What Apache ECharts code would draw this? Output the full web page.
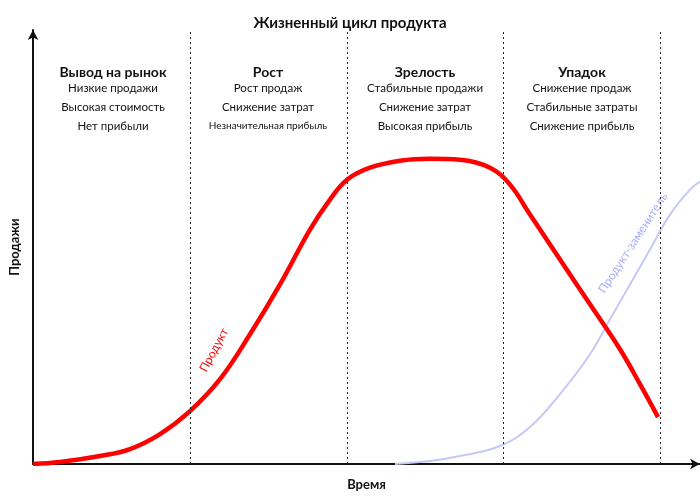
<!DOCTYPE html>
<html lang="ru">
<head>
<meta charset="utf-8">
<title>Жизненный цикл продукта</title>
<script src="https://cdn.jsdelivr.net/npm/echarts@6/dist/echarts.min.js"></script>
</head>
<body style="margin:0;background:#fff">
<div id="main" style="width:700px;height:496px"></div>
<script>
const productX = [0, 27, 67, 97, 127, 157, 187, 217, 247, 277, 297, 314, 337, 367, 397, 427, 457, 477, 497, 527, 557, 587, 607, 625];
const productY = [0, 2, 8, 15, 30, 53, 85, 130, 180, 235, 265, 285, 297, 304, 306, 305, 297, 280, 250, 205, 160, 115, 80, 47];
const substX = [362, 397, 427, 467, 497, 527, 557, 577, 597, 617, 637, 657, 667];
const substY = [0, 3, 8, 18, 37, 70, 110, 145, 180, 215, 250, 275, 283];
const phaseBounds = [157, 314, 470, 627];
const phaseNames = ['Вывод на рынок', 'Рост', 'Зрелость', 'Упадок'];
const phaseLines = [
  ['Низкие продажи', 'Высокая стоимость', 'Нет прибыли'],
  ['Рост продаж', 'Снижение затрат', 'Незначительная прибыль'],
  ['Стабильные продажи', 'Снижение затрат', 'Высокая прибыль'],
  ['Снижение продаж', 'Стабильные затраты', 'Снижение прибыль']
];
const phaseCenters = [113, 268, 425, 582];

const font = 'Lato, "Open Sans", sans-serif';
const chart = echarts.init(document.getElementById('main'));

const graphics = [];
phaseNames.forEach((n, i) => {
  graphics.push({ type: 'text', x: phaseCenters[i], y: 72, style: { text: n, align: 'center', verticalAlign: 'middle', font: 'bold 14px ' + font, fill: '#111' } });
  phaseLines[i].forEach((t, j) => {
    graphics.push({ type: 'text', x: phaseCenters[i], y: 88 + j * 19, style: { text: t, align: 'center', verticalAlign: 'middle', font: (i === 1 && j === 2 ? 10 : 11.5) + 'px ' + font, fill: '#111' } });
  });
});
graphics.push({ type: 'text', x: 214, y: 350, rotation: Math.PI * 62 / 180, style: { text: 'Продукт', font: '12px ' + font, fill: '#f00', align: 'center', verticalAlign: 'middle' } });
graphics.push({ type: 'text', x: 633, y: 243, rotation: Math.PI * 57 / 180, style: { text: 'Продукт-заменитель', font: '12px ' + font, fill: '#a9aef5', align: 'center', verticalAlign: 'middle' } });

chart.setOption({
  animation: false,
  title: { text: 'Жизненный цикл продукта', left: 'center', top: 11, textStyle: { fontFamily: font, fontSize: 15, fontWeight: 'bold', color: '#111' } },
  grid: { left: 33, right: 0, top: 30, bottom: 31 },
  xAxis: {
    type: 'value', min: 0, max: 667, name: 'Время', nameLocation: 'middle', nameGap: 14,
    nameTextStyle: { fontFamily: font, fontSize: 13, fontWeight: 'bold', color: '#111' },
    axisLine: { lineStyle: { color: '#111', width: 2 }, symbol: ['none', 'arrow'], symbolSize: [8, 10] },
    axisTick: { show: false }, axisLabel: { show: false }, splitLine: { show: false }
  },
  yAxis: {
    type: 'value', min: 0, max: 435, name: 'Продажи', nameLocation: 'middle', nameGap: 12,
    nameTextStyle: { fontFamily: font, fontSize: 13, fontWeight: 'bold', color: '#111' },
    axisLine: { lineStyle: { color: '#111', width: 2 }, symbol: ['none', 'arrow'], symbolSize: [8, 10] },
    axisTick: { show: false }, axisLabel: { show: false }, splitLine: { show: false }
  },
  graphic: graphics,
  series: [
    {
      type: 'line', smooth: 0.4, symbol: 'none',
      data: substX.map((x, i) => [x, substY[i]]),
      lineStyle: { color: '#c5c8f7', width: 2 }
    },
    {
      type: 'line', smooth: 0.4, symbol: 'none',
      data: productX.map((x, i) => [x, productY[i]]),
      lineStyle: { color: '#ff0000', width: 4.5 },
      markLine: {
        symbol: 'none', silent: true, label: { show: false },
        lineStyle: { color: '#222', type: [2, 3], width: 1 },
        data: phaseBounds.map(x => [{ coord: [x, 0] }, { coord: [x, 435] }])
      }
    }
  ]
});
</script>
</body>
</html>
